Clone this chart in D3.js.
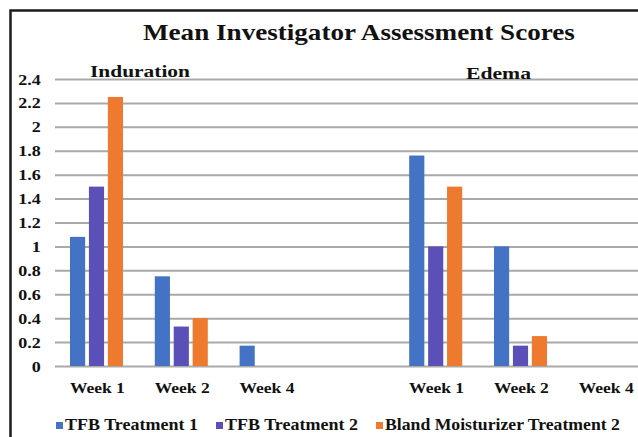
<!DOCTYPE html>
<html>
<head>
<meta charset="utf-8">
<script src="https://cdn.jsdelivr.net/npm/d3@7"></script>
<style>
  html, body { margin: 0; padding: 0; background: #fff; }
  svg { display: block; }
  text { font-family: "Liberation Serif", "Times New Roman", serif; font-weight: bold; fill: #111; }
</style>
</head>
<body>
<svg id="chart" width="638" height="437"></svg>
<script>
// ---- data ----
const slots = ["Ind-Week 1", "Ind-Week 2", "Ind-Week 4", "gap", "Ede-Week 1", "Ede-Week 2", "Ede-Week 4"];
const slotLabels = ["Week 1", "Week 2", "Week 4", "", "Week 1", "Week 2", "Week 4"];
const seriesNames = ["TFB Treatment 1", "TFB Treatment 2", "Bland Moisturizer Treatment 2"];
const tfb1 = [1.08, 0.75, 0.17, null, 1.76, 1.0, 0];
const tfb2 = [1.5, 0.33, 0, null, 1.0, 0.17, 0];
const bland = [2.25, 0.4, 0, null, 1.5, 0.25, 0];
const yTicks = [0, 0.2, 0.4, 0.6, 0.8, 1, 1.2, 1.4, 1.6, 1.8, 2, 2.2, 2.4];
const colors = ["#4472C4", "#5B4FB8", "#ED7A2E"];
const sectionTitles = ["Induration", "Edema"];
const chartTitle = "Mean Investigator Assessment Scores";

const seriesValues = [tfb1, tfb2, bland];

const svg = d3.select("#chart");

// frame
svg.append("rect").attr("x", 10.5).attr("y", 10.5).attr("width", 700).attr("height", 500)
  .attr("fill", "none").attr("stroke", "#1b1b1b").attr("stroke-width", 2.5);

const x0 = d3.scaleBand().domain(slots).range([54, 647.6]).padding(0);
const x1 = d3.scaleBand().domain(seriesNames).range([16, 69]).paddingInner(0.2).paddingOuter(0);
const y = d3.scaleLinear().domain([0, 2.4]).range([366, 79]);

// helper: stretch text horizontally to target width or by factor
function stretch(sel, opt) {
  sel.each(function () {
    const t = d3.select(this);
    const len = this.getComputedTextLength();
    const f = opt.width ? opt.width / len : opt.factor;
    const tx = +t.attr("data-x"), ty = +t.attr("data-y");
    t.attr("transform", `translate(${tx},${ty}) scale(${f},1)`);
  });
}
function addText(parent, str, x, yy, size, anchor) {
  return parent.append("text").text(str)
    .attr("data-x", x).attr("data-y", yy)
    .attr("font-size", size).attr("text-anchor", anchor || "start");
}

// gridlines
const yAxis = d3.axisLeft(y).tickValues(yTicks).tickSize(-(660 - 55)).tickFormat(d3.format("~g"));
const gAxis = svg.append("g").attr("transform", "translate(55,0)").call(yAxis);
gAxis.select(".domain").remove();
gAxis.selectAll(".tick line").attr("stroke", "#a9a9a9").attr("stroke-width", 2);
gAxis.selectAll(".tick text").remove();

// y tick labels
const tickG = svg.append("g");
yTicks.forEach(v => {
  const t = addText(tickG, d3.format("~g")(v), 40.7, y(v) + 5.5, 15, "end");
  stretch(t, { factor: 1.2 });
});

// bars
const barG = svg.append("g");
seriesValues.forEach((vals, si) => {
  barG.selectAll(null).data(vals.map((v, i) => ({ v, slot: slots[i] })).filter(d => d.v))
    .enter().append("rect")
    .attr("x", d => x0(d.slot) + x1(seriesNames[si]))
    .attr("y", d => y(d.v))
    .attr("width", x1.bandwidth())
    .attr("height", d => y(0) - y(d.v))
    .attr("fill", colors[si]);
});

// x labels
slots.forEach((s, i) => {
  if (!slotLabels[i]) return;
  const t = addText(svg, slotLabels[i], x0(s) + x0.bandwidth() / 2 + 1, 393, 15, "middle");
  stretch(t, { width: 55 });
});

// title
stretch(addText(svg, chartTitle, 143, 40, 22.5), { width: 432 });
// section titles
stretch(addText(svg, sectionTitles[0], 90, 77, 17.5), { width: 100 });
stretch(addText(svg, sectionTitles[1], 466, 79, 17.5), { width: 65 });

// legend
const legendX = [56, 216, 376];
const legendW = [133, 133, 235];
seriesNames.forEach((n, i) => {
  svg.append("rect").attr("x", legendX[i]).attr("y", 422).attr("width", 7).attr("height", 7).attr("fill", colors[i]);
  stretch(addText(svg, n, legendX[i] + 9, 430, 16), { width: legendW[i] });
});
</script>
</body>
</html>
